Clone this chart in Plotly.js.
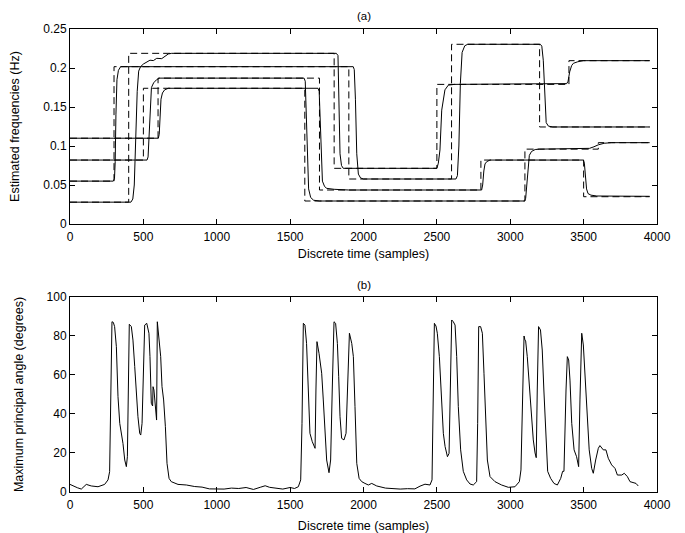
<!DOCTYPE html>
<html>
<head>
<meta charset="utf-8">
<script src="https://cdn.plot.ly/plotly-3.0.1.min.js"></script>
<style>html,body{margin:0;padding:0;background:#fff;}#chart{width:685px;height:533px;}</style>
</head>
<body>
<div id="chart"></div>
<script>
// ---------- (a) true frequencies (dashed, piecewise constant) ----------
const trueAx = [0, 300, 1900, 2600, 3200, 3950];
const trueAy = [0.055, 0.2017, 0.0577, 0.2304, 0.1244, 0.1244];
const trueBx = [0, 400, 1800, 2500, 3400, 3950];
const trueBy = [0.028, 0.2188, 0.0714, 0.179, 0.2094, 0.2094];
const trueCx = [0, 500, 1600, 3100, 3600, 3950];
const trueCy = [0.082, 0.174, 0.0295, 0.096, 0.1043, 0.1043];
const trueDx = [0, 600, 1700, 2800, 3500, 3950];
const trueDy = [0.11, 0.187, 0.0436, 0.082, 0.035, 0.035];

// ---------- (a) estimated frequencies (solid) ----------
const est1x = [0, 415, 428, 438, 448, 458, 468, 480, 500, 523, 545, 568, 591, 625, 647, 670, 693, 1815, 1826, 1833, 1840, 1850, 1862, 1900, 2500, 2510, 2521, 2533, 2555, 2578, 2620, 3385, 3394, 3405, 3418, 3430, 3460, 3498, 3950];
const est1y = [0.028, 0.028, 0.032, 0.05, 0.11, 0.17, 0.196, 0.2015, 0.2051, 0.208, 0.210, 0.2095, 0.2124, 0.2120, 0.2145, 0.218, 0.2188, 0.2188, 0.216, 0.17, 0.09, 0.075, 0.0714, 0.0714, 0.0714, 0.078, 0.0949, 0.146, 0.172, 0.178, 0.179, 0.180, 0.183, 0.195, 0.203, 0.206, 0.208, 0.2094, 0.2094];
const est2x = [0, 295, 303, 308, 313, 320, 330, 345, 1930, 1937, 1945, 1954, 1965, 1980, 2000, 2630, 2640, 2650, 2660, 2672, 2690, 2710, 3205, 3215, 3225, 3235, 3245, 3260, 3290, 3950];
const est2y = [0.055, 0.055, 0.058, 0.08, 0.14, 0.185, 0.197, 0.2017, 0.2017, 0.198, 0.16, 0.09, 0.064, 0.059, 0.0577, 0.0577, 0.062, 0.10, 0.18, 0.22, 0.2285, 0.2304, 0.2304, 0.228, 0.21, 0.16, 0.13, 0.1255, 0.1244, 0.1244];
const est3x = [0, 525, 532, 538, 545, 555, 570, 590, 610, 1595, 1603, 1610, 1618, 1626, 1640, 1660, 1700, 3098, 3105, 3112, 3120, 3130, 3145, 3170, 3200, 3540, 3570, 3600, 3640, 3690, 3950];
const est3y = [0.082, 0.082, 0.086, 0.11, 0.15, 0.175, 0.181, 0.185, 0.187, 0.187, 0.183, 0.14, 0.08, 0.045, 0.034, 0.0305, 0.0295, 0.0295, 0.033, 0.05, 0.075, 0.088, 0.093, 0.0955, 0.096, 0.097, 0.099, 0.1015, 0.1035, 0.1043, 0.1043];
const est4x = [0, 602, 608, 614, 620, 630, 645, 670, 700, 1690, 1698, 1705, 1712, 1720, 1735, 1750, 1800, 1900, 2805, 2812, 2820, 2828, 2840, 2862, 2900, 3498, 3505, 3512, 3520, 3530, 3550, 3590, 3950];
const est4y = [0.11, 0.11, 0.115, 0.14, 0.16, 0.168, 0.172, 0.174, 0.174, 0.174, 0.17, 0.13, 0.08, 0.055, 0.048, 0.0457, 0.0445, 0.0436, 0.0436, 0.05, 0.068, 0.077, 0.08, 0.082, 0.082, 0.082, 0.078, 0.06, 0.045, 0.039, 0.037, 0.0359, 0.0355];

// ---------- (b) maximum principal angle ----------
const angX = [0, 32, 50, 77, 111, 145, 191, 236, 259, 270, 278, 286, 295, 304, 316, 327, 339, 350, 361, 373, 384, 391, 398, 404, 418, 429, 441, 452, 463, 475, 482, 491, 500, 509, 523, 538, 545, 554, 563, 566, 572, 581, 590, 595, 604, 618, 627, 638, 650, 661, 675, 690, 736, 793,
  850, 900, 950, 1000, 1050, 1100, 1150, 1200, 1250, 1300, 1330, 1360, 1400, 1450, 1500, 1530, 1556, 1572,
  1581, 1590, 1601, 1612, 1624, 1635, 1651, 1670, 1676, 1683, 1697, 1715, 1726, 1738, 1749, 1765, 1776, 1787, 1799, 1810, 1822, 1831, 1840, 1851, 1867, 1881, 1890, 1904, 1920, 1931, 1942, 1954, 1970, 1988, 2010, 2033, 2056, 2090,
  2150, 2200, 2250, 2300, 2350, 2385, 2419, 2453, 2467,
  2476, 2483, 2494, 2503, 2517, 2528, 2544, 2556, 2572, 2583, 2592, 2601, 2612, 2624, 2635, 2646, 2662, 2680, 2703, 2726, 2748, 2771, 2778, 2785, 2798, 2810, 2821, 2832, 2844, 2862, 2896, 2941, 2987, 3032, 3062, 3073, 3085, 3094, 3100, 3105, 3116, 3135, 3150, 3157, 3169, 3177, 3184, 3193, 3206, 3218, 3229, 3243, 3255, 3275, 3298, 3321, 3344, 3357, 3366, 3380, 3389, 3398, 3407, 3419, 3435, 3452, 3466, 3475, 3487, 3498, 3509, 3521, 3538, 3555, 3566, 3582, 3600, 3611, 3634, 3652, 3668, 3691, 3714, 3730, 3760, 3777, 3798, 3816, 3839, 3857, 3872];
const angY = [3.9, 2.7, 2.2, 1.5, 3.9, 3.1, 2.7, 3.9, 6.2, 10.4, 40, 87.3, 87, 84.8, 74.5, 48.9, 35.2, 30.9, 24.9, 16.4, 13.0, 18.1, 69.4, 86.0, 84.8, 77.9, 64.3, 48.9, 38.6, 30.1, 29.2, 35.2, 69.4, 85.6, 86.5, 81.4, 69.4, 45.5, 44.1, 54, 52.3, 42.1, 36.9, 87.3, 79.6, 69.4, 54, 47.2, 33.5, 14.7, 7.0, 5.3, 3.9, 3.6,
  2.8, 2.5, 1.6, 1.4, 1.5, 2.0, 1.8, 2.3, 1.3, 2.5, 3.2, 2.4, 2.0, 1.5, 2.3, 1.8, 2.7, 6.2,
  35.2, 86.5, 85.6, 76.2, 52.3, 30.1, 25.8, 22.4, 52.3, 77.1, 71.1, 60.9, 47.2, 30.1, 16.4, 9.9, 16.4, 52.3, 87.3, 86.5, 76.2, 59.1, 38.6, 27.5, 26.7, 30.1, 52.3, 81.4, 76.2, 69.4, 43.8, 14.7, 7.0, 5.3, 4.4, 3.6, 4.4, 3.1,
  2.0, 1.8, 1.5, 1.7, 1.6, 3.0, 4.0, 3.6, 6.2,
  52.3, 86.5, 85.1, 81.4, 69.4, 52.3, 30.1, 23.3, 18.1, 19.8, 52.3, 88.2, 87.3, 85.6, 69.4, 43.8, 21.6, 10.6, 6.2, 4.1, 3.6, 5.3, 35.2, 84.8, 84.8, 81.4, 60.9, 35.2, 16.4, 7.9, 5.3, 3.6, 2.4, 2.7, 5.3, 11.3, 52.3, 80.0, 78, 77.4, 69.4, 47.2, 32, 26.7, 20, 17.6, 52.3, 84.8, 83.1, 72.8, 52.3, 26.7, 10.6, 7.0, 4.4, 3.6, 7.0, 10.6, 10.6, 52.3, 69.4, 67.7, 57.4, 35.2, 21.6, 18.1, 13.0, 47.2, 81.4, 75.4, 60.9, 40.4, 21.6, 12.1, 9.6, 16.4, 22.4, 23.8, 21.6, 21.6, 17.3, 13.9, 12.1, 8.7, 8.7, 9.6, 7.9, 5.3, 4.9, 4.4, 3.1];

// ---------- ticks / labels ----------
const xTickVals = [0, 500, 1000, 1500, 2000, 2500, 3000, 3500, 4000];
const xTickText = ['0', '500', '1000', '1500', '2000', '2500', '3000', '3500', '4000'];
const y1TickVals = [0, 0.05, 0.1, 0.15, 0.2, 0.25];
const y1TickText = ['0', '0.05', '0.1', '0.15', '0.2', '0.25'];
const y2TickVals = [0, 20, 40, 60, 80, 100];
const y2TickText = ['0', '20', '40', '60', '80', '100'];

const FAM = 'Liberation Sans, Arial, sans-serif';
const TICKFONT = {family: FAM, size: 12, color: '#000'};
const TITLEFONT = {family: FAM, size: 12.5, color: '#000'};
const PANELFONT = {family: FAM, size: 11.5, color: '#000'};

function dashed(x, y) {
  return {x: x, y: y, xaxis: 'x', yaxis: 'y', mode: 'lines', line: {shape: 'hv', color: '#000', width: 1, dash: '7px,4px'}, hoverinfo: 'skip', showlegend: false};
}
function solid(x, y, xa, ya) {
  return {x: x, y: y, xaxis: xa, yaxis: ya, mode: 'lines', line: {color: '#000', width: 1}, hoverinfo: 'skip', showlegend: false};
}

const data = [
  dashed(trueAx, trueAy), dashed(trueBx, trueBy), dashed(trueCx, trueCy), dashed(trueDx, trueDy),
  solid(est1x, est1y, 'x', 'y'), solid(est2x, est2y, 'x', 'y'), solid(est3x, est3y, 'x', 'y'), solid(est4x, est4y, 'x', 'y'),
  solid(angX, angY, 'x2', 'y2')
];

function xax(anchor, standoff) {
  return {
    anchor: anchor, domain: [0, 1], range: [0, 4000], tickmode: 'array', tickvals: xTickVals, ticktext: xTickText,
    ticks: 'inside', ticklen: 5, tickcolor: '#000', showline: true, linecolor: '#000', linewidth: 1, mirror: 'ticks',
    showgrid: false, zeroline: false, tickfont: TICKFONT, ticklabelstandoff: 2, fixedrange: true,
    title: {text: 'Discrete time (samples)', font: TITLEFONT, standoff: standoff}
  };
}
function yax(anchor, domain, range, tv, tt, title) {
  return {
    anchor: anchor, domain: domain, range: range, tickmode: 'array', tickvals: tv, ticktext: tt,
    ticks: 'inside', ticklen: 5, tickcolor: '#000', showline: true, linecolor: '#000', linewidth: 1, mirror: 'ticks',
    showgrid: false, zeroline: false, tickfont: TICKFONT, fixedrange: true,
    title: {text: title, font: TITLEFONT, standoff: 20}
  };
}

const layout = {
  width: 685, height: 533,
  margin: {l: 70, r: 28, t: 29, b: 41},
  paper_bgcolor: '#fff', plot_bgcolor: '#fff',
  font: TICKFONT,
  showlegend: false,
  xaxis: xax('y', 5),
  yaxis: yax('x', [0.5788, 1], [0, 0.25], y1TickVals, y1TickText, 'Estimated frequencies (Hz)'),
  xaxis2: xax('y2', 16),
  yaxis2: yax('x2', [0, 0.4212], [0, 100], y2TickVals, y2TickText, 'Maximum principal angle (degrees)'),
  annotations: [
    {text: '(a)', xref: 'paper', yref: 'paper', x: 0.5, y: 1.028, xanchor: 'center', yanchor: 'middle', showarrow: false, font: PANELFONT},
    {text: '(b)', xref: 'paper', yref: 'paper', x: 0.5, y: 0.4471, xanchor: 'center', yanchor: 'middle', showarrow: false, font: PANELFONT}
  ]
};

Plotly.newPlot('chart', data, layout, {displayModeBar: false, staticPlot: true});
</script>
</body>
</html>
